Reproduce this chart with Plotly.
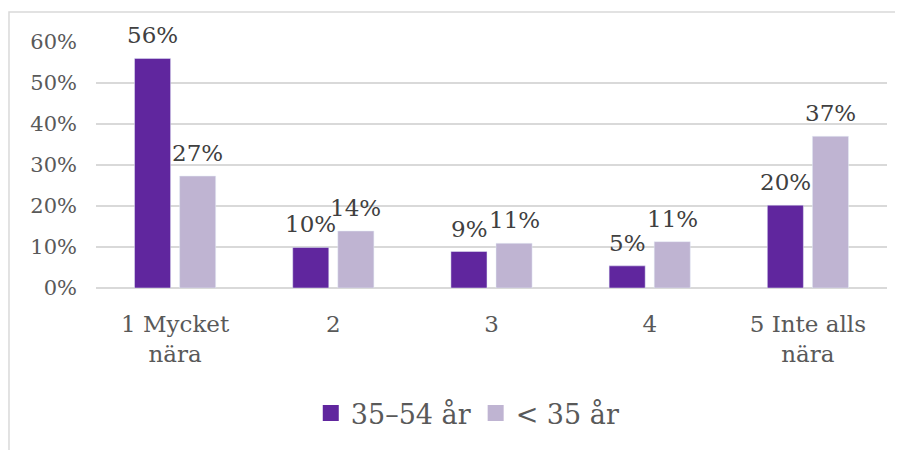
import plotly.graph_objects as go

categories = ["1 Mycket<br>nära", "2", "3", "4", "5 Inte alls<br>nära"]
age_35_54 = [0.56, 0.099, 0.089, 0.054, 0.202]
age_under_35 = [0.273, 0.139, 0.109, 0.113, 0.37]
series_names = ["35–54 år", "< 35 år"]
colors = ["#60269E", "#BFB4D2"]

font = "DejaVu Serif"

fig = go.Figure()
annotations = []
for i, (name, vals, col) in enumerate(zip(series_names, [age_35_54, age_under_35], colors)):
    fig.add_trace(
        go.Bar(
            x=categories,
            y=vals,
            name=name,
            marker_color=col,
            showlegend=False,
        )
    )
    # legend entries with bigger square swatches
    fig.add_trace(
        go.Scatter(
            x=[None],
            y=[None],
            mode="markers",
            name=name,
            marker=dict(symbol="square", size=16, color=col),
        )
    )
    # data labels sit a bit higher than plotly's own outside text
    for j, v in enumerate(vals):
        annotations.append(
            dict(
                x=j,
                y=v,
                text=f"{v:.0%}",
                showarrow=False,
                xshift=-22.5 if i == 0 else 22.5,
                yanchor="bottom",
                yshift=8,
                font=dict(family=font, size=23, color="#404040"),
            )
        )

# page body has an 8px margin, so the figure is drawn 8px smaller/shifted
fig.update_layout(
    width=895,
    height=442,
    margin=dict(l=88, r=16, t=34, b=162),
    plot_bgcolor="white",
    paper_bgcolor="white",
    barmode="group",
    bargap=0.43,
    bargroupgap=0.2,
    font=dict(family=font, color="#595959"),
    annotations=annotations,
    legend=dict(
        orientation="h",
        x=0.47,
        xanchor="center",
        y=-0.51,
        yanchor="middle",
        font=dict(family=font, size=27, color="#595959"),
        itemwidth=30,
    ),
    shapes=[
        dict(
            type="rect",
            xref="paper",
            yref="paper",
            x0=-0.11,
            x1=1.05,
            y0=-0.75,
            y1=1.122,
            line=dict(color="#D9D9D9", width=1.5),
        )
    ],
)
fig.update_yaxes(
    range=[0, 0.6],
    dtick=0.1,
    tickformat=".0%",
    gridcolor="#D9D9D9",
    gridwidth=1.5,
    zeroline=True,
    zerolinecolor="#D9D9D9",
    zerolinewidth=1.5,
    showline=False,
    ticklabelstandoff=18,
    tickfont=dict(family=font, size=21, color="#595959"),
)
fig.update_xaxes(
    type="category",
    showgrid=False,
    showline=False,
    ticklabelstandoff=20,
    tickfont=dict(family=font, size=23, color="#595959"),
)

fig.write_html("out.html")
